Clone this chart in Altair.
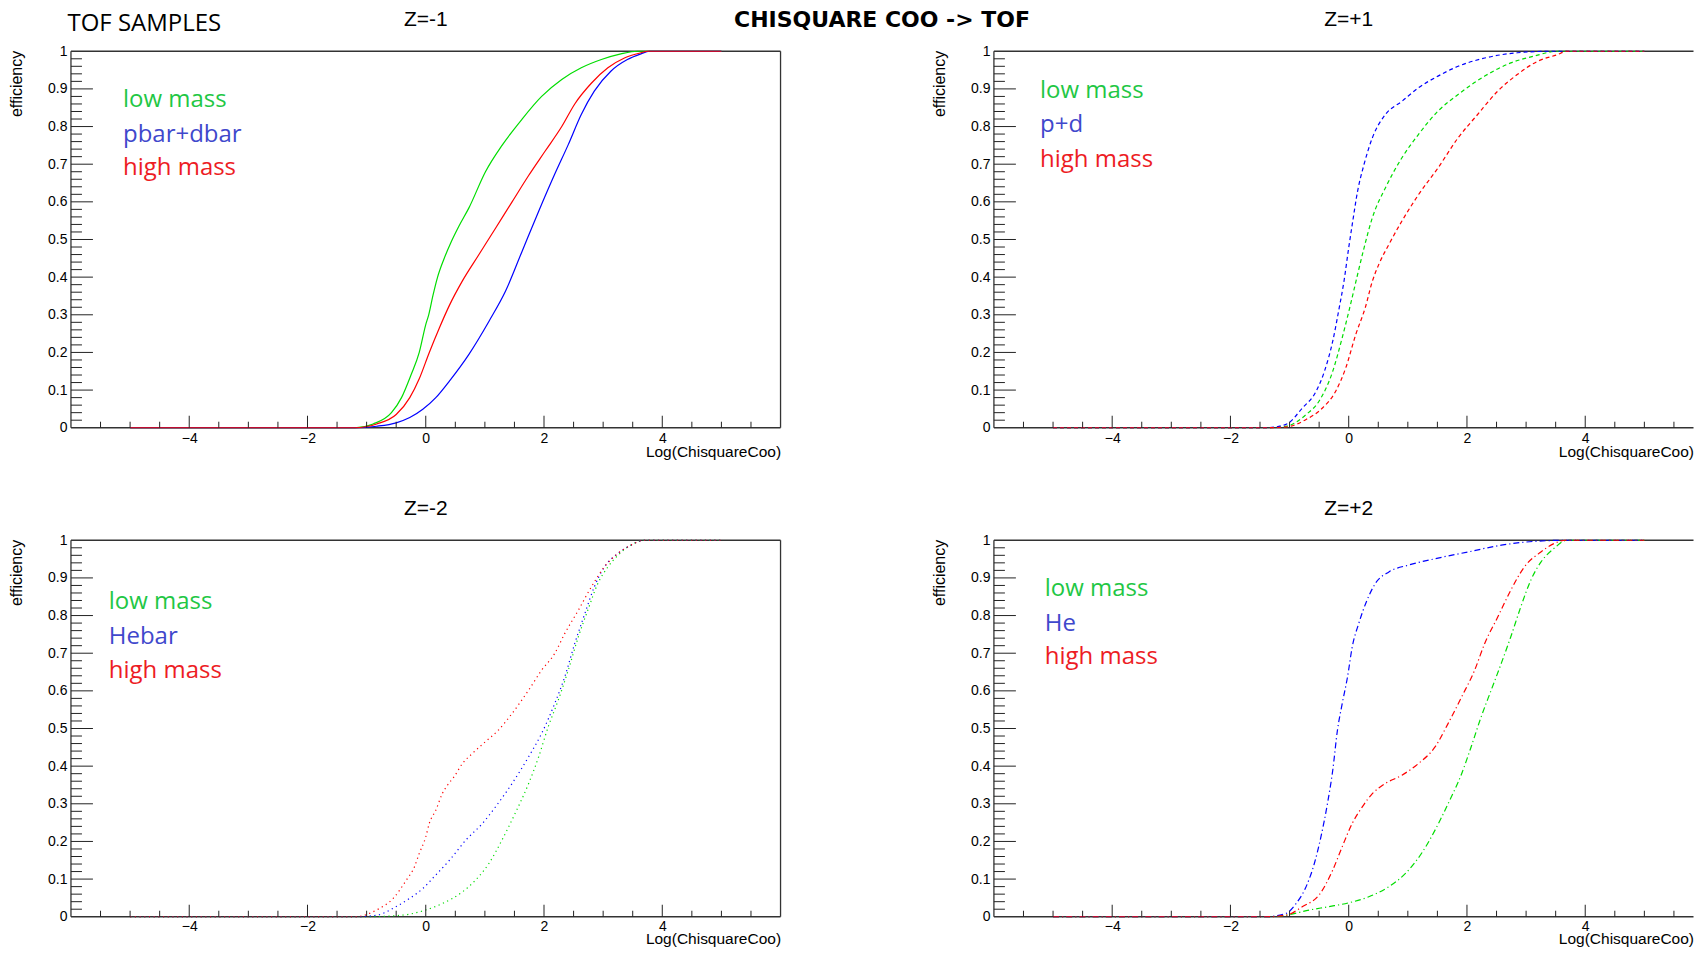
import altair as alt
import pandas as pd

# ---------------- data ----------------
# Panel Z=-1
p1_low_x = [-5, -1.2, -0.89, -0.58, -0.41, -0.25, -0.11, 0.0, 0.05, 0.12, 0.2, 0.3, 0.42, 0.56, 0.73, 1.01, 1.29, 1.63, 1.96, 2.30, 2.63, 2.97, 3.30, 3.58, 5]
p1_low_y = [0, 0, 0.01, 0.04, 0.08, 0.14, 0.20, 0.274, 0.30, 0.35, 0.40, 0.445, 0.49, 0.535, 0.584, 0.68, 0.75, 0.82, 0.88, 0.925, 0.956, 0.978, 0.993, 1.0, 1.0]
p1_mid_x = [-5, -1.2, -0.83, -0.5, -0.27, -0.05, 0.17, 0.40, 0.73, 1.07, 1.35, 1.63, 1.91, 2.18, 2.41, 2.63, 2.85, 3.13, 3.41, 3.64, 3.78, 5]
p1_mid_y = [0, 0, 0.004, 0.013, 0.027, 0.049, 0.08, 0.124, 0.195, 0.283, 0.363, 0.469, 0.575, 0.673, 0.752, 0.832, 0.894, 0.947, 0.978, 0.993, 1.0, 1.0]
p1_high_x = [-5, -1.2, -0.83, -0.5, -0.27, -0.11, 0.06, 0.23, 0.40, 0.62, 0.90, 1.18, 1.46, 1.74, 2.02, 2.30, 2.52, 2.80, 3.08, 3.36, 3.64, 3.75, 5]
p1_high_y = [0, 0, 0.01, 0.035, 0.08, 0.13, 0.20, 0.265, 0.325, 0.39, 0.46, 0.53, 0.60, 0.67, 0.735, 0.80, 0.86, 0.915, 0.956, 0.982, 0.996, 1.0, 1.0]

# Panel Z=+1
p2_low_x = [-5, -1.4, -1.06, -0.72, -0.5, -0.27, -0.11, 0.03, 0.15, 0.26, 0.40, 0.62, 0.90, 1.18, 1.51, 1.85, 2.30, 2.74, 3.13, 3.53, 5]
p2_low_y = [0, 0, 0.004, 0.035, 0.071, 0.15, 0.239, 0.327, 0.407, 0.478, 0.558, 0.637, 0.717, 0.779, 0.841, 0.885, 0.934, 0.969, 0.987, 1.0, 1.0]
p2_mid_x = [-5, -1.4, -1.06, -0.78, -0.55, -0.41, -0.27, -0.16, -0.08, 0.0, 0.06, 0.15, 0.26, 0.40, 0.62, 0.90, 1.18, 1.51, 1.85, 2.30, 2.85, 3.41, 5]
p2_mid_y = [0, 0, 0.009, 0.053, 0.097, 0.15, 0.23, 0.319, 0.389, 0.478, 0.54, 0.628, 0.70, 0.77, 0.832, 0.867, 0.903, 0.934, 0.96, 0.982, 0.996, 1.0, 1.0]
p2_high_x = [-5, -1.4, -1.06, -0.72, -0.44, -0.22, -0.05, 0.12, 0.28, 0.40, 0.51, 0.68, 0.90, 1.18, 1.51, 1.85, 2.18, 2.52, 2.85, 3.19, 3.53, 3.69, 5]
p2_high_y = [0, 0, 0.002, 0.022, 0.053, 0.097, 0.159, 0.248, 0.319, 0.389, 0.434, 0.487, 0.549, 0.619, 0.69, 0.77, 0.832, 0.894, 0.938, 0.973, 0.991, 1.0, 1.0]

# Panel Z=-2
p3_low_x = [-5, -1.0, -0.61, -0.27, 0.0, 0.28, 0.62, 0.84, 1.07, 1.29, 1.51, 1.74, 1.91, 2.07, 2.24, 2.41, 2.58, 2.74, 2.91, 3.08, 3.25, 3.47, 3.69, 5]
p3_low_y = [0, 0, 0.002, 0.007, 0.018, 0.035, 0.066, 0.097, 0.142, 0.204, 0.274, 0.354, 0.425, 0.504, 0.575, 0.655, 0.743, 0.814, 0.885, 0.929, 0.96, 0.987, 1.0, 1.0]
p3_mid_x = [-5, -1.2, -0.83, -0.5, -0.27, -0.05, 0.17, 0.40, 0.68, 0.96, 1.18, 1.46, 1.74, 1.96, 2.18, 2.35, 2.52, 2.69, 2.85, 3.02, 3.25, 3.47, 3.69, 5]
p3_mid_y = [0, 0, 0.004, 0.027, 0.049, 0.075, 0.111, 0.15, 0.204, 0.248, 0.292, 0.354, 0.425, 0.487, 0.566, 0.637, 0.726, 0.805, 0.876, 0.929, 0.965, 0.987, 1.0, 1.0]
p3_high_x = [-5, -1.2, -0.83, -0.55, -0.33, -0.19, -0.11, 0.0, 0.06, 0.17, 0.28, 0.37, 0.48, 0.62, 0.79, 1.01, 1.23, 1.46, 1.74, 1.96, 2.18, 2.35, 2.58, 2.80, 3.02, 3.25, 3.47, 3.69, 5]
p3_high_y = [0, 0, 0.018, 0.049, 0.097, 0.133, 0.168, 0.212, 0.248, 0.283, 0.327, 0.35, 0.372, 0.407, 0.434, 0.465, 0.496, 0.54, 0.602, 0.655, 0.699, 0.752, 0.814, 0.876, 0.929, 0.965, 0.987, 1.0, 1.0]

# Panel Z=+2
p4_low_x = [-5, -1.4, -1.06, -0.66, -0.33, 0.0, 0.34, 0.68, 0.96, 1.23, 1.46, 1.68, 1.91, 2.07, 2.24, 2.41, 2.58, 2.74, 2.91, 3.08, 3.25, 3.47, 3.69, 5]
p4_low_y = [0, 0, 0.004, 0.018, 0.027, 0.037, 0.053, 0.08, 0.115, 0.168, 0.23, 0.30, 0.38, 0.451, 0.531, 0.602, 0.673, 0.743, 0.823, 0.894, 0.942, 0.978, 1.0, 1.0]
p4_mid_x = [-5, -1.4, -1.06, -0.89, -0.72, -0.58, -0.47, -0.36, -0.27, -0.19, -0.11, -0.02, 0.06, 0.17, 0.31, 0.45, 0.68, 1.01, 1.46, 2.02, 2.58, 3.13, 3.69, 5]
p4_mid_y = [0, 0, 0.009, 0.035, 0.08, 0.142, 0.212, 0.30, 0.389, 0.496, 0.566, 0.637, 0.717, 0.779, 0.841, 0.885, 0.916, 0.934, 0.951, 0.969, 0.987, 0.997, 1.0, 1.0]
p4_high_x = [-5, -1.4, -1.06, -0.78, -0.5, -0.27, -0.11, 0.06, 0.23, 0.40, 0.62, 0.90, 1.18, 1.46, 1.68, 1.91, 2.13, 2.30, 2.52, 2.74, 2.97, 3.25, 3.47, 3.66, 5]
p4_high_y = [0, 0, 0.004, 0.027, 0.058, 0.124, 0.186, 0.248, 0.292, 0.327, 0.354, 0.376, 0.407, 0.451, 0.513, 0.584, 0.655, 0.726, 0.796, 0.867, 0.929, 0.969, 0.991, 1.0, 1.0]

panel_titles = ["Z=-1", "Z=+1", "Z=-2", "Z=+2"]
middle_names = ["pbar+dbar", "p+d", "Hebar", "He"]
low_name = "low mass"
high_name = "high mass"
# legend text anchor (data coords: x, baseline y of each line)
legend_x = [-5.12, -5.22, -5.36, -5.14]
legend_y = [[0.851, 0.759, 0.670], [0.877, 0.785, 0.693], [0.817, 0.725, 0.633], [0.852, 0.760, 0.671]]

x_label_values = [-4, -2, 0, 2, 4]
x_major_ticks = [-4, -2, 0, 2, 4]
x_minor_ticks = [-5.5, -5, -4.5, -3.5, -3, -2.5, -1.5, -1, -0.5, 0.5, 1, 1.5, 2.5, 3, 3.5, 4.5, 5, 5.5]
y_label_values = [0, 0.1, 0.2, 0.3, 0.4, 0.5, 0.6, 0.7, 0.8, 0.9, 1]
y_major_ticks = [0.1, 0.2, 0.3, 0.4, 0.5, 0.6, 0.7, 0.8, 0.9]
y_minor_ticks = [round(i * 0.02, 2) for i in range(1, 50) if i % 5 != 0]

header_left = "TOF SAMPLES"
header_center = "CHISQUARE COO -> TOF"

# ---------------- styling ----------------
H = 376.7
UNIT = 710 / 12.0                 # pixels per x unit
WIDTHS = [710, 700, 710, 700]     # right column is cut at the page edge
LINE_COLORS = {"low": "#00dd00", "mid": "#0000ff", "high": "#ff0000"}
TEXT_COLORS = {"low": "#1fc745", "mid": "#3f48cc", "high": "#ed1c24"}
DASHES = [None, [4, 3], [1.2, 3.5], [6, 3, 1.2, 3]]
AX = "#222222"
FRAME = "#333333"
ROOT_FONT = "Liberation Sans"

curves = [
    {"low": (p1_low_x, p1_low_y), "mid": (p1_mid_x, p1_mid_y), "high": (p1_high_x, p1_high_y)},
    {"low": (p2_low_x, p2_low_y), "mid": (p2_mid_x, p2_mid_y), "high": (p2_high_x, p2_high_y)},
    {"low": (p3_low_x, p3_low_y), "mid": (p3_mid_x, p3_mid_y), "high": (p3_high_x, p3_high_y)},
    {"low": (p4_low_x, p4_low_y), "mid": (p4_mid_x, p4_mid_y), "high": (p4_high_x, p4_high_y)},
]


def make_panel(i):
    W = WIDTHS[i]
    right_col = i in (1, 3)
    bottom_row = i in (2, 3)
    xs = alt.Scale(domain=[-6, -6 + W / UNIT], nice=False, zero=False)
    ys = alt.Scale(domain=[0, 1], nice=False, zero=False)
    xaxis = alt.Axis(values=x_label_values, format="~g", domain=False, ticks=False,
                     grid=False, labelFont=ROOT_FONT, labelFontSize=14,
                     labelPadding=2.5 if bottom_row else 4,
                     labelColor="#000", labelFlush=False, labelOverlap=False,
                     title="Log(ChisquareCoo)", titleFont=ROOT_FONT, titleFontSize=15.5,
                     titleFontWeight="normal", titleColor="#000", titleAlign="right",
                     titleBaseline="middle", titleX=W, titleY=22 if bottom_row else 24,
                     titleAnchor="end")
    yaxis = alt.Axis(values=y_label_values, format="~g", domain=False, ticks=False,
                     grid=False, labelFont=ROOT_FONT, labelFontSize=14, labelPadding=4,
                     labelColor="#000", labelFlush=False, labelOverlap=False,
                     title="efficiency", titleFont=ROOT_FONT, titleFontSize=16,
                     titleFontWeight="normal", titleColor="#000", titleAngle=270,
                     titleAlign="right", titleBaseline="middle", titleX=-54.5, titleY=-1)
    X = lambda f: alt.X(f, scale=xs, axis=xaxis)
    Y = lambda f: alt.Y(f, scale=ys, axis=yaxis)

    layers = []
    # frame
    frame = dict(color=FRAME, strokeWidth=1.3)
    layers.append(alt.Chart().mark_rule(**frame).encode(x=alt.value(0), x2=alt.value(W), y=alt.value(0)))
    layers.append(alt.Chart().mark_rule(**frame).encode(x=alt.value(0), x2=alt.value(W), y=alt.value(H)))
    layers.append(alt.Chart().mark_rule(**frame).encode(x=alt.value(0), y=alt.value(0), y2=alt.value(H)))
    if not right_col:
        layers.append(alt.Chart().mark_rule(**frame).encode(x=alt.value(W), y=alt.value(0), y2=alt.value(H)))

    for key in ["low", "mid", "high"]:
        cx, cy = curves[i][key]
        df = pd.DataFrame({"x": cx, "y": cy})
        mk = dict(color=LINE_COLORS[key], strokeWidth=1.2, interpolate="monotone")
        if DASHES[i] is not None:
            mk["strokeDash"] = DASHES[i]
        layers.append(alt.Chart(df).mark_line(**mk).encode(x=X("x:Q"), y=Y("y:Q")))

    # inward ROOT-style tick marks
    layers.append(alt.Chart(pd.DataFrame({"t": x_major_ticks})).mark_rule(color=AX, strokeWidth=1).encode(
        x=X("t:Q"), y=alt.value(H), y2=alt.value(H - 12)))
    layers.append(alt.Chart(pd.DataFrame({"t": x_minor_ticks})).mark_rule(color=AX, strokeWidth=1).encode(
        x=X("t:Q"), y=alt.value(H), y2=alt.value(H - 6)))
    layers.append(alt.Chart(pd.DataFrame({"t": y_major_ticks})).mark_rule(color=AX, strokeWidth=1).encode(
        y=Y("t:Q"), x=alt.value(0), x2=alt.value(22)))
    layers.append(alt.Chart(pd.DataFrame({"t": y_minor_ticks})).mark_rule(color=AX, strokeWidth=1).encode(
        y=Y("t:Q"), x=alt.value(0), x2=alt.value(11)))

    # legend texts
    leg = pd.DataFrame({
        "x": [legend_x[i]] * 3,
        "y": legend_y[i],
        "label": [low_name, middle_names[i], high_name],
        "c": [TEXT_COLORS["low"], TEXT_COLORS["mid"], TEXT_COLORS["high"]],
    })
    layers.append(alt.Chart(leg).mark_text(align="left", baseline="alphabetic", font="Open Sans",
                                           fontSize=24).encode(
        x=X("x:Q"), y=Y("y:Q"), text="label:N", color=alt.Color("c:N", scale=None)))

    # panel title
    tdf = pd.DataFrame({"x": [0], "label": [panel_titles[i]]})
    layers.append(alt.Chart(tdf).mark_text(align="center", baseline="middle", font=ROOT_FONT,
                                           fontSize=21, color="#000").encode(
        x=X("x:Q"), y=alt.value(-30.8), text="label:N"))

    if i == 0:
        layers.append(alt.Chart(pd.DataFrame({"label": [header_left]})).mark_text(
            align="left", baseline="middle", font="Open Sans", fontSize=24, color="#000").encode(
            x=alt.value(-3.5), y=alt.value(-27.5), text="label:N"))
        layers.append(alt.Chart(pd.DataFrame({"label": [header_center]})).mark_text(
            align="center", baseline="alphabetic", font="DejaVu Sans", fontSize=22, fontWeight="bold",
            color="#000").encode(x=alt.value(811.5), y=alt.value(-24.3), text="label:N"))

    return alt.layer(*layers).properties(width=W, height=H)


chart = alt.concat(
    make_panel(0), make_panel(1), make_panel(2), make_panel(3),
    columns=2, spacing=alt.RowColnumber(row=112.3, column=213.5), bounds="flush",
).properties(padding={"left": 0, "top": 0, "right": -1, "bottom": -1.5}, background="white"
).configure_view(stroke=None)

chart.save("out.html", embed_options={"renderer": "svg", "actions": False})
